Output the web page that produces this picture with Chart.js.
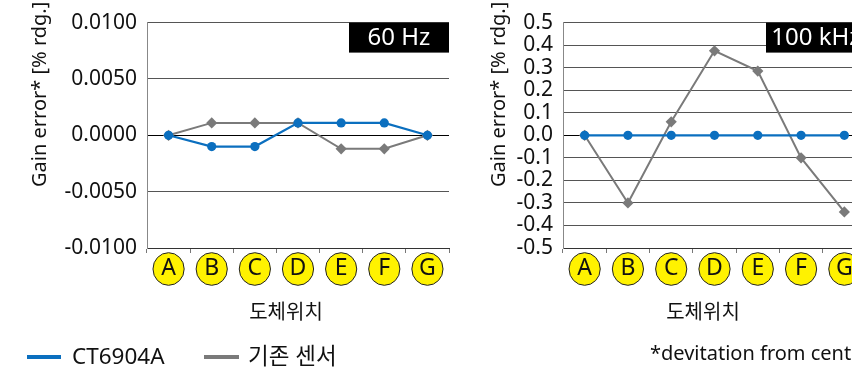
<!DOCTYPE html>
<html><head><meta charset="utf-8">
<script src="https://cdn.jsdelivr.net/npm/chart.js@4/dist/chart.umd.min.js"></script>
<style>
html,body{margin:0;padding:0;background:#fff;}
body{width:852px;height:367px;overflow:hidden;position:relative;font-family:"Noto Sans","Noto Sans CJK KR",sans-serif;color:#111;}
.wrap{position:absolute;top:0;height:367px;}
.t{position:absolute;white-space:nowrap;}
.ytitle{font-size:20px;line-height:22px;transform:rotate(-90deg);transform-origin:0 0;}
.xtitle{font-size:20px;line-height:24px;width:200px;text-align:center;font-family:"Noto Sans CJK KR","Noto Sans",sans-serif;}
.bar{position:absolute;height:4px;}
.leg{font-size:22.5px;line-height:30px;}
.note{font-size:20px;line-height:24px;}
</style></head>
<body>
<div class="wrap" style="left:0;width:460px"><canvas id="c1" width="460" height="367" style="width:460px;height:367px"></canvas></div>
<div class="wrap" style="left:460px;width:420px"><canvas id="c2" width="420" height="367" style="width:420px;height:367px"></canvas></div>

<div class="t ytitle" style="left:28px;top:187px">Gain error* [% rdg.]</div>
<div class="t ytitle" style="left:487px;top:187px">Gain error* [% rdg.]</div>
<div class="t xtitle" style="left:186px;top:299px">도체위치</div>
<div class="t xtitle" style="left:603px;top:299px">도체위치</div>

<div class="bar" style="left:27px;top:355px;width:34px;background:#0b6fbf"></div>
<div class="t leg" style="left:72px;top:341px" id="leg1"></div>
<div class="bar" style="left:204px;top:355px;width:35px;background:#7a7a7a"></div>
<div class="t leg" style="left:248px;top:341px" id="leg2"></div>
<div class="t note" style="left:650px;top:341px">*devitation from center</div>

<script>
// ---- data ----
const categories = ['A','B','C','D','E','F','G'];
const seriesNames = ['CT6904A','기존 센서'];
const ct6904a_60Hz  = [0, -0.0010, -0.0010, 0.0011, 0.0011, 0.0011, 0];
const legacy_60Hz   = [0, 0.0011, 0.0011, 0.0011, -0.0012, -0.0012, 0];
const ct6904a_100kHz = [0, 0, 0, 0, 0, 0, 0];
const legacy_100kHz  = [0, -0.30, 0.06, 0.375, 0.285, -0.10, -0.34];
const yTicks60Hz  = ['-0.0100','-0.0050','0.0000','0.0050','0.0100'];
const yTicks100kHz = ['-0.5','-0.4','-0.3','-0.2','-0.1','0.0','0.1','0.2','0.3','0.4','0.5'];
const panelNames = ['60 Hz','100 kHz'];

document.getElementById('leg1').textContent = seriesNames[0];
document.getElementById('leg2').textContent = seriesNames[1];

const BLUE = '#0b6fbf', GRAY = '#7a7a7a';
Chart.defaults.font.family = '"Noto Sans","Noto Sans CJK KR",sans-serif';

const circleLabels = {
  id:'circleLabels',
  beforeDraw(chart){
    const xs = chart.scales.x, ctx = chart.ctx;
    ctx.save();
    for (let i = 0; i < xs.ticks.length; i++) {
      const px = xs.getPixelForTick(i);
      ctx.beginPath();
      ctx.ellipse(px, 269, 15.6, 16.3, 0, 0, Math.PI*2);
      ctx.fillStyle = '#fff200'; ctx.fill();
      ctx.lineWidth = 1; ctx.strokeStyle = '#222'; ctx.stroke();
    }
    ctx.restore();
  }
};
const panelLabel = {
  id:'panelLabel',
  afterDraw(chart, args, opts){
    const a = chart.chartArea, ctx = chart.ctx;
    ctx.save();
    ctx.fillStyle = '#000';
    ctx.fillRect(a.right - 100, a.top, 100, 30);
    ctx.fillStyle = '#fff';
    ctx.font = '24px "Noto Sans"';
    ctx.textAlign = 'center'; ctx.textBaseline = 'middle';
    ctx.fillText(opts.text, a.right - 50, a.top + 16);
    ctx.restore();
  }
};

function makeChart(id, ct, old, yMin, yMax, step, yLabels, dec, label, yWidth, padRight){
  return new Chart(document.getElementById(id), {
    type:'line',
    data:{
      labels:categories,
      datasets:[
        {label:seriesNames[0], data:ct, borderColor:BLUE, backgroundColor:BLUE, borderWidth:2.2,
         pointStyle:'circle', pointRadius:4.6, pointBackgroundColor:BLUE, pointBorderColor:BLUE, pointBorderWidth:0, tension:0},
        {label:seriesNames[1], data:old, borderColor:GRAY, backgroundColor:GRAY, borderWidth:2,
         pointStyle:'rectRot', pointRadius:5.6, pointBackgroundColor:GRAY, pointBorderColor:GRAY, pointBorderWidth:0, tension:0}
      ]
    },
    options:{
      responsive:false, animation:false, devicePixelRatio:1,
      layout:{padding:{top:18, right:padRight, left:0, bottom:0}},
      plugins:{legend:{display:false}, tooltip:{enabled:false}, panelLabel:{text:label}},
      scales:{
        x:{
          offset:true,
          grid:{offset:true, drawOnChartArea:false, drawTicks:true, tickLength:5, color:'#777'},
          border:{color:'#333'},
          ticks:{font:{size:23}, color:'#111', padding:2, maxRotation:0, autoSkip:false},
          afterFit(s){ s.height = 119; }
        },
        y:{
          min:yMin, max:yMax,
          ticks:{stepSize:step, font:{size:21}, color:'#111', padding:10, autoSkip:false,
                 callback:(v,i)=> (yLabels[i] !== undefined ? yLabels[i] : Number(v).toFixed(dec))},
          grid:{drawTicks:false, color:c => (c.tick && c.tick.value === 0) ? '#000' : '#555'},
          border:{color:'#888'},
          afterFit(s){ s.width = yWidth; }
        }
      }
    },
    plugins:[circleLabels, panelLabel]
  });
}

makeChart('c1', ct6904a_60Hz, legacy_60Hz, -0.01, 0.01, 0.005, yTicks60Hz, 4, panelNames[0], 147, 11);
makeChart('c2', ct6904a_100kHz, legacy_100kHz, -0.5, 0.5, 0.1, yTicks100kHz, 1, panelNames[1], 103, 14);
</script>
</body></html>
